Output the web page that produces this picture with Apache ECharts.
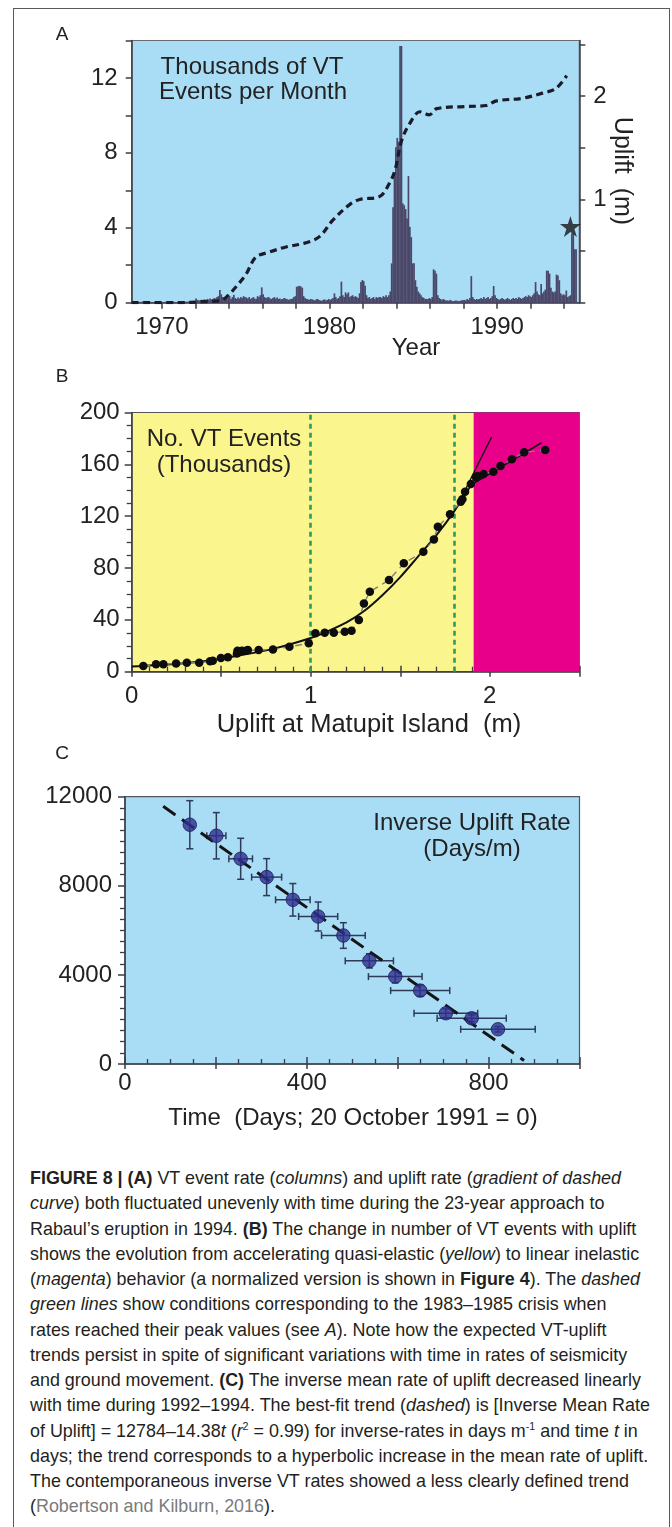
<!DOCTYPE html>
<html>
<head>
<meta charset="utf-8">
<script src="https://cdn.jsdelivr.net/npm/echarts@6/dist/echarts.min.js"></script>
<style>
html,body{margin:0;padding:0;background:#fff;}
#page{position:relative;width:672px;height:1527px;overflow:hidden;background:#fff;}
#frame{position:absolute;left:13px;top:8px;width:657px;height:1560px;border:1.5px solid #5a5a5a;box-sizing:border-box;}
#chart{position:absolute;left:0;top:0;width:672px;height:1150px;}
#caption{position:absolute;left:30px;top:1165px;font-family:"Liberation Sans",Arial,sans-serif;font-size:18.5px;line-height:25.26px;color:#231f20;white-space:nowrap;transform-origin:0 0;}
#caption b{font-weight:bold;}
#caption .ref{color:#7a7a7a;}
#caption sup{font-size:11px;line-height:0;vertical-align:7px;}
</style>
</head>
<body>
<div id="page">
  <div id="frame"></div>
  <div id="chart"></div>
  <div id="caption">
    <div><span id="cl1"><b>FIGURE 8 | (A)</b> VT event rate (<i>columns</i>) and uplift rate (<i>gradient of dashed</i></span></div>
    <div><i>curve</i>) both fluctuated unevenly with time during the 23-year approach to</div>
    <div>Rabaul’s eruption in 1994. <b>(B)</b> The change in number of VT events with uplift</div>
    <div>shows the evolution from accelerating quasi-elastic (<i>yellow</i>) to linear inelastic</div>
    <div>(<i>magenta</i>) behavior (a normalized version is shown in <b>Figure 4</b>). The <i>dashed</i></div>
    <div><i>green lines</i> show conditions corresponding to the 1983–1985 crisis when</div>
    <div>rates reached their peak values (see <i>A</i>). Note how the expected VT-uplift</div>
    <div>trends persist in spite of significant variations with time in rates of seismicity</div>
    <div>and ground movement. <b>(C)</b> The inverse mean rate of uplift decreased linearly</div>
    <div>with time during 1992–1994. The best-fit trend (<i>dashed</i>) is [Inverse Mean Rate</div>
    <div>of Uplift] = 12784–14.38<i>t</i> (<i>r</i><sup>2</sup> = 0.99) for inverse-rates in days m<sup>-1</sup> and time <i>t</i> in</div>
    <div>days; the trend corresponds to a hyperbolic increase in the mean rate of uplift.</div>
    <div>The contemporaneous inverse VT rates showed a less clearly defined trend</div>
    <div>(<span class="ref">Robertson and Kilburn, 2016</span>).</div>
  </div>
</div>
<script>
// ---------------- Panel A data ----------------
const vtStartYear = 1968;           // first month = January 1968
const vtMonthly = [                 // thousands of VT events per month
  0.03,0.04,0.03,0.05,0.04,0.06,0.05,0.04,0.03,0.05,0.06,0.04, // 1968
  0.05,0.04,0.03,0.04,0.03,0.02,0.03,0.04,0.05,0.03,0.04,0.03, // 1969
  0.04,0.03,0.05,0.04,0.03,0.05,0.04,0.06,0.05,0.04,0.03,0.05, // 1970
  0.04,0.06,0.05,0.04,0.05,0.06,0.05,0.07,0.06,0.05,0.06,0.08, // 1971
  0.22,0.15,0.12,0.14,0.16,0.13,0.18,0.15,0.20,0.17,0.22,0.18, // 1972
  0.20,0.25,0.22,0.30,0.35,0.68,0.45,0.30,0.22,0.25,0.30,0.28, // 1973
  0.35,0.20,0.30,0.42,0.25,0.20,0.28,0.22,0.30,0.25,0.35,0.30, // 1974
  0.28,0.22,0.30,0.20,0.25,0.30,0.22,0.20,0.35,0.30,0.40,0.82, // 1975
  0.45,0.30,0.25,0.28,0.30,0.22,0.20,0.25,0.30,0.22,0.28,0.20, // 1976
  0.22,0.18,0.20,0.25,0.22,0.20,0.15,0.18,0.20,0.22,0.30,0.35, // 1977
  0.85,0.88,0.90,0.86,0.80,0.35,0.25,0.20,0.18,0.15,0.20,0.18, // 1978
  0.15,0.12,0.18,0.20,0.15,0.12,0.10,0.15,0.18,0.12,0.15,0.20, // 1979
  0.15,0.20,0.25,0.50,0.30,0.20,0.25,0.35,1.12,0.40,0.30,0.55, // 1980
  0.45,0.55,0.30,0.35,0.40,0.30,0.35,0.30,0.25,0.50,1.10,1.21, // 1981
  1.15,0.90,0.40,0.25,0.30,0.20,0.25,0.30,0.20,0.30,0.25,0.30, // 1982
  0.30,0.25,0.35,0.30,0.40,0.30,0.40,0.60,2.10,5.10,6.90,8.30, // 1983
  8.80,8.60,13.70,13.70,5.30,5.20,5.00,4.50,6.76,4.05,3.50,2.10, // 1984
  2.10,1.20,0.85,0.60,0.50,0.40,0.30,0.25,0.20,0.20,0.20,0.25, // 1985
  0.20,0.30,1.78,1.70,1.55,0.40,0.25,0.20,0.15,0.20,0.15,0.12, // 1986
  0.12,0.10,0.15,0.10,0.08,0.10,0.12,0.10,0.08,0.10,0.12,0.15, // 1987
  0.15,0.12,0.20,0.15,0.25,1.42,0.30,0.20,0.15,0.20,0.18,0.20, // 1988
  0.25,0.20,0.30,0.20,0.25,0.30,0.20,0.25,0.35,0.89,0.40,0.25, // 1989
  0.20,0.15,0.20,0.25,0.20,0.15,0.20,0.25,0.20,0.15,0.20,0.25, // 1990
  0.20,0.25,0.20,0.30,0.25,0.20,0.25,0.30,0.35,0.30,0.40,0.35, // 1991
  0.30,0.40,0.50,1.10,0.60,0.45,0.40,1.00,0.50,0.60,0.70,1.71, // 1992
  1.71,1.55,0.80,0.60,0.55,0.60,1.50,1.45,1.20,0.50,0.40,0.45, // 1993
  0.40,0.65,0.30,0.35,0.40,3.70,3.70,2.85,2.85                 // 1994
];
const upliftYears  = [1968.2,1971.0,1972.5,1973.5,1973.95,1974.4,1975.0,1975.6,1976.4,1977.4,1978.6,1979.4,1980.2,1981.2,1981.8,1983.0,1983.55,1983.9,1984.3,1984.8,1985.4,1985.95,1986.4,1988.0,1989.35,1989.95,1991.5,1992.7,1993.5,1994.15];
const upliftMetres = [0,0,0.01,0.02,0.07,0.15,0.27,0.44,0.49,0.54,0.58,0.64,0.80,0.95,1.00,1.03,1.15,1.28,1.57,1.74,1.85,1.82,1.88,1.90,1.91,1.955,1.98,2.03,2.075,2.20];
const eruptionStar = [1994.37, 4.07];
const yearTicks  = [1970,1972,1974,1976,1978,1980,1982,1984,1986,1988,1990,1992,1994];
const yearLabels = [1970,1980,1990];
const vtLabels   = [0,4,8,12];
const upliftTicks  = [0,0.5,1,1.5,2,2.5];
const upliftLabels = [1,2];

// ---------------- Panel B data ----------------
const bUplift = [0.065,0.136,0.177,0.248,0.308,0.377,0.438,0.453,0.498,0.537,0.588,0.591,0.616,0.640,0.649,0.709,0.789,0.881,0.989,1.026,1.078,1.129,1.190,1.228,1.269,1.297,1.330,1.437,1.520,1.629,1.688,1.710,1.778,1.838,1.847,1.862,1.894,1.922,1.931,1.965,2.020,2.060,2.123,2.192,2.310];
const bEvents = [4.4,5.7,5.7,6.4,6.9,6.9,8.0,8.5,10.5,11.1,14.1,16.2,16.2,16.2,16.7,16.7,17.2,19.3,21.9,29.6,30.1,30.1,30.9,31.6,39.9,52.7,61.7,70.7,83.6,92.6,102.1,111.9,121.4,131.2,133.0,138.9,144.8,150.0,151.0,152.5,154.3,158.7,163.9,169.3,171.1];
const fitUplift = [0,0.2,0.4,0.6,0.8,1.0,1.1,1.2,1.3,1.4,1.5,1.6,1.7,1.8,1.9];
const fitEvents = [4,5.5,8,12.5,18,26,31.5,38,47,59,73,89,105,123.5,145];
const tangentUplift = [1.84,2.01];
const tangentEvents = [134,181];
const linearUplift = [1.894,2.289];
const linearEvents = [144,176.7];
const phaseBoundary = 1.91;     // quasi-elastic -> inelastic
const crisisUplift = [1.0,1.8]; // dashed green lines
const bXLabels = [0,1,2];

// ---------------- Panel C data ----------------
const cDays       = [142.6,201,254.5,311.6,369.3,425,480.5,537.6,594.6,649.5,705.9,762.8,820.6];
const cInverse    = [10742,10247,9213,8390,7371,6622,5768,4630,3924,3295,2277,2053,1558];
const cDaysErr    = [0,21,26,33,38,43,48,53,59,65,70,76,82];
const cInverseErr = [1080,1040,920,830,730,650,575,320,280,250,200,150,120];
const trendDays    = [84,878];
const trendInverse = [11570,160];
const cXLabels = [0,400,800];
const cYLabels = [0,4000,8000,12000];

// ---------------- styling ----------------
const FONT = '"Liberation Sans", Arial, sans-serif';
const TXT = '#222';
const AX = '#3c3c46';
const BLUE = '#a9dcf5';
const FS = 24;

function txt(text, x, y, size, extra) {
  return Object.assign({type:'text', x:x, y:y, z:100,
    style:{text:text, fontSize:size||FS, fontFamily:FONT, fill:TXT, align:'center', verticalAlign:'middle'}}, extra||{});
}
const axLine = {show:true, onZero:false, lineStyle:{color:AX, width:1.5}};
const noSplit = {show:false};
const plain = v => String(v);

const chart = echarts.init(document.getElementById('chart'), null, {renderer:'canvas'});

const vtData = vtMonthly.map((v,i)=>[vtStartYear + (i+0.5)/12, v]);
const upData = upliftYears.map((y,i)=>[y, upliftMetres[i]]);
const bData  = bUplift.map((u,i)=>[u, bEvents[i]]);
const fitData = fitUplift.map((u,i)=>[u, fitEvents[i]]);
const tanData = tangentUplift.map((u,i)=>[u, tangentEvents[i]]);
const linData = linearUplift.map((u,i)=>[u, linearEvents[i]]);
const cErrData = cDays.map((d,i)=>[d, cInverse[i], cDaysErr[i], cInverseErr[i]]);
const cData = cDays.map((d,i)=>[d, cInverse[i]]);
const trendData = trendDays.map((d,i)=>[d, trendInverse[i]]);

const labelStyle = {color:TXT, fontSize:FS, fontFamily:FONT};
const starPath = 'path://M50,0 L61.2,34.5 L97.6,34.5 L68.2,55.9 L79.4,90.5 L50,69.1 L20.6,90.5 L31.8,55.9 L2.4,34.5 L38.8,34.5 Z';

const option = {
  animation:false,
  backgroundColor:'transparent',
  textStyle:{fontFamily:FONT},
  grid:[
    {left:131.7, top:40.5, width:447.6, height:262.2, show:true, backgroundColor:BLUE, borderColor:'#6a6a72', borderWidth:1.2, outerBoundsMode:'none', containLabel:false},
    {left:131.7, top:412.5, width:447.6, height:259.2, show:true, backgroundColor:'#fbf58e', borderColor:'#55555c', borderWidth:1.2, outerBoundsMode:'none', containLabel:false},
    {left:125, top:796.7, width:454.5, height:267.3, show:true, backgroundColor:BLUE, borderColor:'#55555c', borderWidth:1.2, outerBoundsMode:'none', containLabel:false}
  ],
  xAxis:[
    {gridIndex:0, type:'value', min:1968.2, max:1994.9, position:'bottom',
     axisLine:axLine, splitLine:noSplit,
     axisTick:{show:true, inside:false, length:6, lineStyle:{color:AX, width:1.5}, customValues:yearTicks},
     axisLabel:Object.assign({margin:13, customValues:yearLabels, formatter:plain}, labelStyle)},
    {gridIndex:1, type:'value', min:0, max:2.5, interval:0.5, position:'bottom',
     axisLine:axLine, splitLine:noSplit,
     axisTick:{show:true, inside:false, length:5, lineStyle:{color:AX, width:1.5}},
     axisLabel:Object.assign({margin:13, customValues:bXLabels, formatter:plain}, labelStyle)},
    {gridIndex:1, type:'value', min:0, max:2.5, interval:0.5, position:'bottom',
     axisLine:{show:false}, splitLine:noSplit, axisLabel:{show:false},
     axisTick:{show:true, inside:true, length:6, lineStyle:{color:AX, width:1.5}},
     minorTick:{show:true, splitNumber:5, length:5, lineStyle:{color:AX, width:1.3}}},
    {gridIndex:2, type:'value', min:0, max:1000, interval:200, position:'bottom',
     axisLine:axLine, splitLine:noSplit,
     axisTick:{show:true, inside:false, length:5, lineStyle:{color:AX, width:1.5}},
     axisLabel:Object.assign({margin:7, customValues:cXLabels, formatter:plain}, labelStyle)},
    {gridIndex:2, type:'value', min:0, max:1000, interval:200, position:'bottom',
     axisLine:{show:false}, splitLine:noSplit, axisLabel:{show:false},
     axisTick:{show:true, inside:true, length:7, lineStyle:{color:AX, width:1.5}},
     minorTick:{show:true, splitNumber:4, length:5, lineStyle:{color:AX, width:1.3}}}
  ],
  yAxis:[
    {gridIndex:0, type:'value', min:0, max:14, interval:2, position:'left',
     axisLine:axLine, splitLine:noSplit,
     axisTick:{show:true, inside:false, length:6, lineStyle:{color:AX, width:1.5}},
     axisLabel:Object.assign({margin:14, customValues:vtLabels, formatter:plain}, labelStyle)},
    {gridIndex:0, type:'value', min:0, max:2.54, position:'right',
     axisLine:axLine, splitLine:noSplit,
     axisTick:{show:true, inside:false, length:6, lineStyle:{color:AX, width:1.5}, customValues:upliftTicks},
     axisLabel:Object.assign({margin:14, customValues:upliftLabels, formatter:plain}, labelStyle)},
    {gridIndex:1, type:'value', min:0, max:200, interval:40, position:'left',
     axisLine:axLine, splitLine:noSplit,
     axisTick:{show:true, inside:false, length:7, lineStyle:{color:AX, width:1.5}},
     axisLabel:Object.assign({margin:12, formatter:plain}, labelStyle)},
    {gridIndex:1, type:'value', min:0, max:200, interval:40, position:'left',
     axisLine:{show:false}, splitLine:noSplit, axisLabel:{show:false},
     axisTick:{show:false},
     minorTick:{show:true, splitNumber:4, length:5, lineStyle:{color:AX, width:1.3}}},
    {gridIndex:2, type:'value', min:0, max:12000, interval:4000, position:'left',
     axisLine:axLine, splitLine:noSplit,
     axisTick:{show:true, inside:false, length:7, lineStyle:{color:AX, width:1.5}},
     axisLabel:Object.assign({margin:13, customValues:cYLabels, formatter:plain}, labelStyle)},
    {gridIndex:2, type:'value', min:0, max:12000, interval:4000, position:'left',
     axisLine:{show:false}, splitLine:noSplit, axisLabel:{show:false},
     axisTick:{show:false},
     minorTick:{show:true, splitNumber:8, length:5, lineStyle:{color:AX, width:1.3}}}
  ],
  series:[
    // ----- A -----
    {name:'VT events per month', type:'bar', xAxisIndex:0, yAxisIndex:0, data:vtData,
     barWidth:1.7, itemStyle:{color:'#4b4769'}, silent:true, z:2},
    {name:'Uplift', type:'line', xAxisIndex:0, yAxisIndex:1, data:upData, smooth:0.35,
     symbol:'none', lineStyle:{color:'#1b1b2a', width:3.2, type:[7,4.5]}, z:4},
    {name:'Eruption', type:'scatter', xAxisIndex:0, yAxisIndex:0, data:[eruptionStar],
     symbol:starPath, symbolSize:21, itemStyle:{color:'#161616'}, z:5},
    // ----- B -----
    {name:'Fit', type:'line', xAxisIndex:1, yAxisIndex:2, data:fitData, smooth:0.25,
     symbol:'none', lineStyle:{color:'#111', width:2}, z:4,
     markArea:{silent:true, itemStyle:{color:'#e8008a', opacity:1},
       data:[[{xAxis:phaseBoundary},{xAxis:2.5}]], z:1},
     markLine:{silent:true, symbol:'none', label:{show:false}, z:3,
       lineStyle:{color:'#2f9a62', width:2.6, type:[5,4]},
       data:crisisUplift.map(u=>({xAxis:u}))}},
    {name:'Observed', type:'line', xAxisIndex:1, yAxisIndex:2, data:bData,
     symbol:'circle', symbolSize:8.5, itemStyle:{color:'#0d0d0d'},
     lineStyle:{color:'#808080', width:1.4, type:[7,5]}, z:5},
    {name:'Tangent', type:'line', xAxisIndex:1, yAxisIndex:2, data:tanData,
     symbol:'none', lineStyle:{color:'#111', width:1.3}, z:4},
    {name:'Linear', type:'line', xAxisIndex:1, yAxisIndex:2, data:linData,
     symbol:'none', lineStyle:{color:'#111', width:1.6}, z:4},
    // ----- C -----
    {name:'Error bars', type:'custom', xAxisIndex:3, yAxisIndex:4, data:cErrData,
     encode:{x:0, y:1}, z:3,
     renderItem:function(params, api){
       const t = api.value(0), v = api.value(1), te = api.value(2), ve = api.value(3);
       const st = {stroke:'#2d3b58', lineWidth:1.5};
       const cap = 3.5;
       const ch = [];
       if (te > 0) {
         const l = api.coord([t - te, v]), r = api.coord([t + te, v]);
         ch.push({type:'line', shape:{x1:l[0], y1:l[1], x2:r[0], y2:r[1]}, style:st});
         ch.push({type:'line', shape:{x1:l[0], y1:l[1]-cap, x2:l[0], y2:l[1]+cap}, style:st});
         ch.push({type:'line', shape:{x1:r[0], y1:r[1]-cap, x2:r[0], y2:r[1]+cap}, style:st});
       }
       if (ve > 0) {
         const a = api.coord([t, v + ve]), b = api.coord([t, v - ve]);
         ch.push({type:'line', shape:{x1:a[0], y1:a[1], x2:b[0], y2:b[1]}, style:st});
         ch.push({type:'line', shape:{x1:a[0]-cap, y1:a[1], x2:a[0]+cap, y2:a[1]}, style:st});
         ch.push({type:'line', shape:{x1:b[0]-cap, y1:b[1], x2:b[0]+cap, y2:b[1]}, style:st});
       }
       return {type:'group', children:ch};
     }},
    {name:'Trend', type:'line', xAxisIndex:3, yAxisIndex:4, data:trendData,
     symbol:'none', lineStyle:{color:'#151515', width:3, type:[15,8]}, z:4},
    {name:'Inverse uplift rate', type:'scatter', xAxisIndex:3, yAxisIndex:4, data:cData,
     symbol:'circle', symbolSize:13.5, itemStyle:{color:'#30308f', borderColor:'#1c1c58', borderWidth:1}, z:5}
  ],
  graphic:[
    txt('A', 62, 35, 19),
    txt('B', 62, 377, 19),
    txt('C', 62, 754, 19),
    txt('Thousands of VT', 252, 67, FS),
    txt('Events per Month', 253, 92, FS),
    txt('Year', 416, 348, FS),
    txt('Uplift  (m)', 621.5, 171, 25, {rotation:-Math.PI/2}),
    txt('No. VT Events', 224, 439.5, FS),
    txt('(Thousands)', 224, 465, FS),
    txt('Uplift at Matupit Island  (m)', 369, 725, 25.5),
    txt('Inverse Uplift Rate', 472, 823, FS),
    txt('(Days/m)', 472, 849, FS),
    txt('Time  (Days; 20 October 1991 = 0)', 353, 1118, FS)
  ]
};
chart.setOption(option);

// fit caption width to the reference column width
(function(){
  const cap = document.getElementById('caption');
  const w = document.getElementById('cl1').getBoundingClientRect().width;
  const target = 591;
  cap.style.transform = 'scaleX(' + (target / w).toFixed(4) + ')';
})();
</script>
</body>
</html>
